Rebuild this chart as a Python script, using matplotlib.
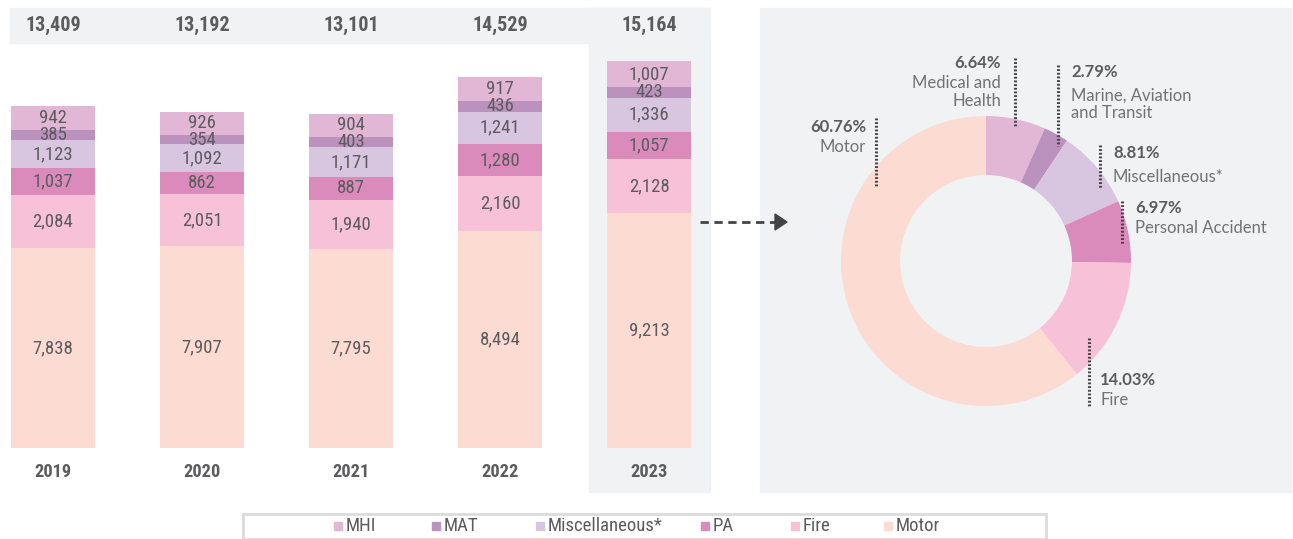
import matplotlib.pyplot as plt
from matplotlib.patches import Rectangle

years = ["2019", "2020", "2021", "2022", "2023"]
totals = [13409, 13192, 13101, 14529, 15164]
motor = [7838, 7907, 7795, 8494, 9213]
fire = [2084, 2051, 1940, 2160, 2128]
pa = [1037, 862, 887, 1280, 1057]
misc = [1123, 1092, 1171, 1241, 1336]
mat = [385, 354, 403, 436, 423]
mhi = [942, 926, 904, 917, 1007]

legend_names = ["MHI", "MAT", "Miscellaneous*", "PA", "Fire", "Motor"]
donut_names = ["Medical and\nHealth", "Marine, Aviation\nand Transit", "Miscellaneous*",
               "Personal Accident", "Fire", "Motor"]
donut_pct = [6.64, 2.79, 8.81, 6.97, 14.03, 60.76]

colors = {"Motor": "#fcdbd2", "Fire": "#f7c1d8", "PA": "#db8bbb",
          "Miscellaneous*": "#d8c5df", "MAT": "#ba92bd", "MHI": "#e2b7d6"}

W, H = 1293, 539
TXT = "#5c5c5e"
BG = "#f1f2f4"

plt.rcParams['font.family'] = ['Roboto Condensed', 'Barlow Semi Condensed', 'DejaVu Sans']

fig = plt.figure(figsize=(W / 100, H / 100), dpi=100)


def px(x, y):
    # pixel (from top-left) -> figure fraction
    return x / W, 1 - y / H


def box(x0, y0, x1, y1, z=-1, **kw):
    fig.patches.append(Rectangle(px(x0, y1), (x1 - x0) / W, (y1 - y0) / H,
                                 transform=fig.transFigure, zorder=z, **kw))


# grey panels
box(10, 8, 710, 43, color=BG)
box(589, 8, 710, 492, color=BG)
box(760, 8, 1291, 492, color=BG)

# ---- stacked bars ----
bottom_px, top_px = 448, 8
scale = 342 / 13409  # px per unit
ax = fig.add_axes([0, 1 - bottom_px / H, 720 / W, (bottom_px - top_px) / H])
ax.set_xlim(-53 / 149, (720 - 53) / 149)
ax.set_ylim(0, (bottom_px - top_px) / scale)
ax.axis("off")

series = [("Motor", motor), ("Fire", fire), ("PA", pa),
          ("Miscellaneous*", misc), ("MAT", mat), ("MHI", mhi)]
xs = list(range(len(years)))
base = [0] * len(years)
for name, vals in series:
    ax.bar(xs, vals, bottom=base, width=84 / 149, color=colors[name], zorder=2)
    for i, v in enumerate(vals):
        ax.text(i, base[i] + v / 2, f"{v:,}", ha="center", va="center",
                fontsize=13.5, color=TXT, zorder=3)
    base = [b + v for b, v in zip(base, vals)]

for i, tot in enumerate(totals):
    ax.text(i, (bottom_px - 25) / scale, f"{tot:,}", ha="center", va="center",
            fontsize=14.5, fontweight="bold", color=TXT)
    ax.text(i, (bottom_px - 472) / scale, years[i], ha="center", va="center",
            fontsize=13.2, fontweight="bold", color=TXT, clip_on=False)

# arrow
fig.add_artist(plt.Line2D([px(700, 0)[0], px(775, 0)[0]], [px(0, 222)[1]] * 2,
                          transform=fig.transFigure, color="#444444", lw=2,
                          linestyle=(0, (3, 2))))
fig.add_artist(plt.Polygon([px(775, 214), px(775, 230), px(787, 222)],
                           closed=True, transform=fig.transFigure, color="#444444"))

# ---- donut ----
cx, cy, R = 986, 261, 145
dax = fig.add_axes([(cx - 150) / W, 1 - (cy + 150) / H, 300 / W, 300 / H])
share = [mhi[-1], mat[-1], misc[-1], pa[-1], fire[-1], motor[-1]]
dax.pie(share, colors=[colors[n] for n in legend_names], startangle=90,
        counterclock=False, radius=1, wedgeprops=dict(width=59 / R, linewidth=0))
dax.set_xlim(-150 / R, 150 / R)
dax.set_ylim(-150 / R, 150 / R)
dax.set_aspect("equal")
dax.axis("off")

lab_font = ["Lato", "DejaVu Sans"]
# (line x, line y0, y1, text x, pct y, name y, align)
label_pos = [
    (1015, 58, 127, 1001, 63, 92, "right"),
    (1058, 65, 146, 1071, 72, 104, "left"),
    (1100, 145, 188, 1113, 153, 177, "left"),
    (1122, 201, 244, 1135, 208, 228, "left"),
    (1089, 338, 406, 1100, 380, 400, "left"),
    (876, 118, 186, 866, 127, 147, "right"),
]
for (lx, ly0, ly1, tx, py, ny, al), nm, p in zip(label_pos, donut_names, donut_pct):
    fig.add_artist(plt.Line2D([lx / W, lx / W], [px(0, ly0)[1], px(0, ly1)[1]],
                              transform=fig.transFigure, color="#444444", lw=2.2,
                              linestyle=(0, (0.6, 0.6))))
    fig.text(*px(tx, py), f"{p:.2f}%", ha=al, va="center",
             fontsize=12, fontweight="bold", color=TXT, family=lab_font)
    fig.text(*px(tx, ny), nm, ha=al, va="center", fontsize=12, color="#727274",
             family=lab_font, linespacing=1.1)

# ---- legend ----
box(243, 514, 1046, 539, z=1, facecolor="white", edgecolor="#dcdcdc", lw=2)
legend_x = [338, 436, 540, 705, 795, 888]
for lx, nm in zip(legend_x, legend_names):
    box(lx - 4, 522, lx + 4, 530, z=2, color=colors[nm])
    fig.text(*px(lx + 8, 526), nm, ha="left", va="center", fontsize=13.5,
             color=TXT, zorder=3)

fig.savefig("out.png", dpi=100)
